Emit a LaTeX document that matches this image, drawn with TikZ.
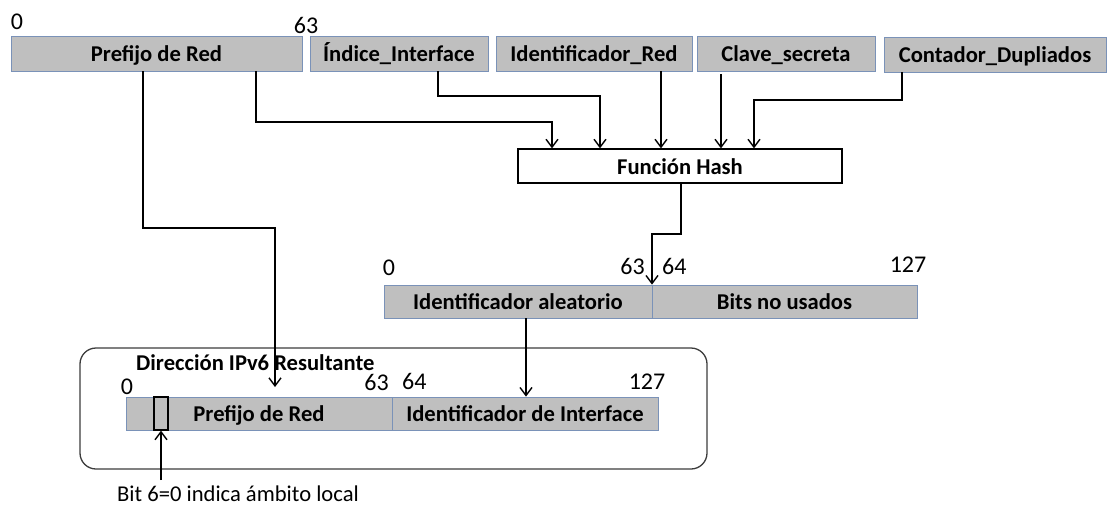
\documentclass[tikz,border=0pt]{standalone}
\usepackage{fontspec}
\setmainfont{Carlito}
\usetikzlibrary{arrows.meta,calc}
\definecolor{fieldgray}{RGB}{191,191,191}
\definecolor{fieldline}{RGB}{122,146,184}
\definecolor{framegray}{RGB}{60,60,60}
\newcommand\lblsize{\fontsize{22.6}{26}\selectfont}
\newcommand\numsize{\fontsize{24}{28}\selectfont}
\tikzset{
  field/.style={draw=fieldline, fill=fieldgray, line width=0.8pt, inner sep=0pt,
    minimum height=#1, text height=18pt, text depth=2pt, font=\bfseries\lblsize},
  field/.default=35pt,
  hashbox/.style={draw=black, fill=white, line width=1.2pt, inner sep=0pt,
    minimum height=34pt, text height=18pt, text depth=2pt, font=\bfseries\lblsize},
  bitnum/.style={inner sep=0pt, font=\numsize},
  conn/.style={draw=black, line width=1.4pt,
    -{Straight Barb[length=8pt,width=12pt,line width=1.4pt]}},
}
\begin{document}
\begin{tikzpicture}[x=1pt,y=-1pt]
\useasboundingbox (0,0) rectangle (1108,506);

% input fields
\node[field, minimum width=291pt] (prefTop) at (156.5,53.5) {Prefijo de Red};
\node[field, minimum width=178pt] (indice) at (399,53.5) {Índice\_Interface};
\node[field, minimum width=196pt] (idred) at (594,53.5) {Identificador\_Red};
\node[field, minimum width=178pt] (clave) at (786,53.5) {Clave\_secreta};
\node[field, minimum width=222pt] (contador) at (995,54.5) {Contador\_Dupliados};
\node[bitnum] (n0top) at (17,22) {0};
\node[bitnum] (n63top) at (306,25) {63};

% hash function
\node[hashbox, minimum width=324pt] (hash) at (680,166) {Función Hash};

% random identifier (128 bits)
\node[field=33pt, minimum width=268pt] (aleat) at (518,301.5) {Identificador aleatorio};
\node[field=33pt, minimum width=265pt] (bits) at (784.5,301.5) {Bits no usados};
\node[bitnum] (a0) at (389,268) {0};
\node[bitnum, anchor=east] (a63) at (645,266) {63};
\node[bitnum, anchor=west] (a64) at (662,266) {64};
\node[bitnum] (a127) at (908,265) {127};

% resulting IPv6 address
\draw[framegray, line width=1.3pt, rounded corners=16pt] (80,348) rectangle (707,469);
\node[inner sep=0pt, anchor=west, text height=18pt, text depth=2pt, font=\bfseries\lblsize] (titulo) at (136,362) {Dirección IPv6 Resultante};
\node[field=33pt, minimum width=266pt] (prefIP) at (259,413.5) {Prefijo de Red};
\node[field=33pt, minimum width=266pt] (ifaceIP) at (525,413.5) {Identificador de Interface};
\node[draw=black, line width=1.3pt, inner sep=0pt, minimum width=14pt, minimum height=33pt] (bit6) at (161,413.5) {};
\node[bitnum] (i0) at (127,387) {0};
\node[bitnum, anchor=east] (i63) at (389,382) {63};
\node[bitnum, anchor=west] (i64) at (402,381) {64};
\node[bitnum] (i127) at (647,382) {127};
\node[inner sep=0pt, anchor=base west, font=\lblsize] (nota) at (117,501) {Bit 6=0 indica ámbito local};

% routing points of the connectors
\coordinate (r1) at (143,228);
\coordinate (t1) at (275,387);
\coordinate (r2) at (256,122);
\coordinate (x2) at (552,0);
\coordinate (r3) at (438,96);
\coordinate (x3) at (600,0);
\coordinate (x4) at (661,0);
\coordinate (x5) at (721,0);
\coordinate (r6) at (902,100);
\coordinate (x6) at (754,0);
\coordinate (r7) at (681,234);
\coordinate (x7) at (652,0);
\coordinate (x8) at (526,0);

% connectors
\draw[conn] (prefTop.south -| r1) -- (r1) -| (t1);
\draw[conn] (prefTop.south -| r2) -- (r2) -| (hash.north -| x2);
\draw[conn] (indice.south -| r3) -- (r3) -| (hash.north -| x3);
\draw[conn] (idred.south -| x4) -- (hash.north -| x4);
\draw[conn] ($(clave.south -| x5)+(0,3)$) -- (hash.north -| x5);
\draw[conn] (contador.south -| r6) -- (r6) -| (hash.north -| x6);
\draw[conn] (hash.south -| r7) -- (r7) -| (aleat.north -| x7);
\draw[conn] (aleat.south -| x8) -- (ifaceIP.north -| x8);
\draw[conn] ($(nota.north -| bit6)+(0,-5)$) -- (bit6.south);
\end{tikzpicture}
\end{document}
